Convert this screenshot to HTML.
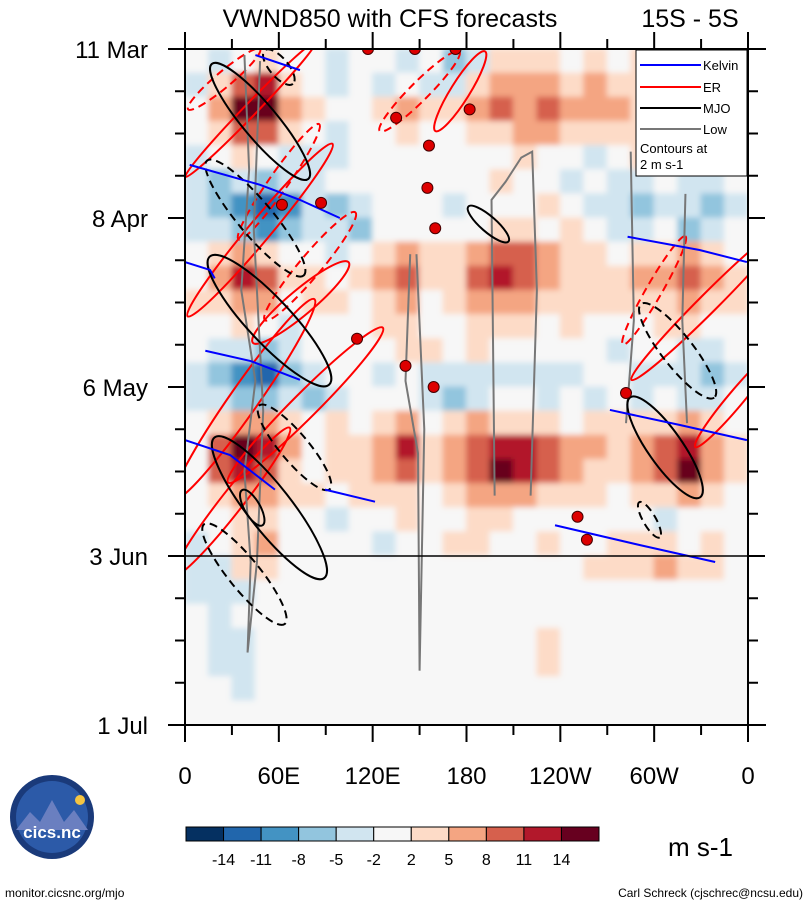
<!DOCTYPE html>
<html><head><meta charset="utf-8"><style>
body{margin:0;background:#fff;width:809px;height:907px;overflow:hidden;font-family:"Liberation Sans",sans-serif}
svg{display:block}
</style></head><body>
<svg id="chart" width="809" height="907" viewBox="0 0 809 907" xmlns="http://www.w3.org/2000/svg">
<defs>
<clipPath id="pc"><rect x="185" y="49" width="563" height="676"/></clipPath>
<filter id="bl" filterUnits="userSpaceOnUse" x="150" y="20" width="650" height="750"><feGaussianBlur stdDeviation="3"/></filter>
</defs>
<text x="390" y="27" font-size="25" text-anchor="middle">VWND850 with CFS forecasts</text>
<text x="690" y="27" font-size="25" text-anchor="middle">15S - 5S</text>
<g clip-path="url(#pc)"><rect x="185" y="49" width="563" height="676" fill="#f7f7f7"/><g id="heat" filter="url(#bl)"></g></g>
<g id="over" clip-path="url(#pc)"></g>
<g id="axes"></g>
<g id="legend">
<rect x="636" y="50" width="111" height="126" fill="#fff" stroke="#000" stroke-width="1"/>
<g><line x1="640" y1="65" x2="701" y2="65" stroke="#00f" stroke-width="2"/><text x="703" y="70" font-size="13">Kelvin</text></g>
<g><line x1="640" y1="87" x2="701" y2="87" stroke="#f00" stroke-width="2"/><text x="703" y="92" font-size="13">ER</text></g>
<g><line x1="640" y1="108" x2="701" y2="108" stroke="#000" stroke-width="2"/><text x="703" y="113" font-size="13">MJO</text></g>
<g><line x1="640" y1="129" x2="701" y2="129" stroke="#777" stroke-width="2"/><text x="703" y="134" font-size="13">Low</text></g>
<text x="640" y="153" font-size="13">Contours at</text>
<text x="640" y="169" font-size="13">2 m s-1</text>
</g>
<g id="cbar"></g>
<text x="668" y="856" font-size="26">m s-1</text>
<g>
<circle cx="52" cy="817" r="42" fill="#1a3a7a"/>
<circle cx="52" cy="817" r="36" fill="#2c5aa8"/>
<path d="M16 830 L30 812 L40 822 L52 800 L64 822 L74 810 L88 830 Z" fill="#6a7fc0"/>
<circle cx="80" cy="800" r="5" fill="#f5c542"/>
<text x="52" y="838" font-size="17" fill="#fff" text-anchor="middle" font-weight="bold">cics.nc</text>
</g>
<text x="5" y="897" font-size="12">monitor.cicsnc.org/mjo</text>
<text x="803" y="897" font-size="12" text-anchor="end">Carl Schreck (cjschrec@ncsu.edu)</text>
</svg>
<script>
const NS='http://www.w3.org/2000/svg';
// ---- data ----
const lonStep=15, dayStep=4;
const vRows=[
[0,-3,0,3,0,0,-3,0,0,-3,0,-6,-3,3,3,3,0,3,0,3,0,0,0,0],
[-3,3,9,12,3,0,-3,0,-3,0,-3,-3,3,6,6,6,3,6,3,3,3,3,0,0],
[0,6,15,15,6,3,0,0,3,6,3,3,6,9,6,9,6,6,6,3,6,3,3,3],
[0,3,9,9,3,0,-3,0,0,3,0,0,3,3,6,6,3,3,3,3,3,0,3,0],
[-3,0,3,0,-3,-3,-3,0,0,0,0,0,0,0,3,0,0,-3,0,3,0,-3,0,-3],
[-3,-6,-3,-6,-3,-3,0,0,0,0,0,0,0,3,0,0,-3,0,-3,-3,0,-3,-3,0],
[-3,-6,-9,-12,-9,-3,-6,-3,0,0,0,-3,0,0,0,3,0,-3,-3,-6,-3,-3,-6,-3],
[-3,-3,-6,-9,-6,-3,-3,-6,0,0,0,0,0,3,3,0,3,0,-3,-3,0,-6,-3,0],
[0,3,6,3,0,0,-3,0,3,6,3,3,6,9,9,6,3,3,0,3,3,6,3,0],
[0,6,12,9,3,3,0,3,6,9,3,3,9,12,9,6,3,3,3,6,6,9,6,3],
[3,3,6,6,0,3,3,0,3,6,0,3,6,6,6,3,3,3,3,3,3,6,3,3],
[0,0,3,0,-3,0,0,0,3,3,0,0,3,3,3,0,3,0,0,0,3,3,0,0],
[0,-3,-3,-6,-3,0,0,0,0,3,3,0,3,0,0,0,0,0,-3,0,0,-3,-3,0],
[-3,-6,-9,-12,-6,-3,0,0,-3,0,-3,-3,-3,-3,-3,-3,-3,0,0,-3,-3,-3,-6,-3],
[-3,-3,-6,-6,-3,-6,-3,0,0,0,-3,-6,-3,0,0,-3,0,-3,0,-3,0,-3,-3,0],
[0,3,6,6,3,0,3,0,3,6,0,3,6,3,3,3,0,3,3,3,3,6,3,0],
[0,9,15,12,6,0,3,3,6,12,3,6,9,12,12,9,6,6,3,6,9,12,6,3],
[0,9,12,9,3,0,3,3,6,9,3,6,9,15,12,9,6,3,3,6,9,15,6,3],
[0,3,6,6,3,3,0,3,3,3,0,3,6,6,6,3,3,3,0,3,3,6,3,0],
[0,0,3,3,0,0,-3,0,0,3,0,0,3,3,0,0,0,0,0,0,-3,0,0,0],
[-3,0,3,6,0,0,0,0,-3,0,0,3,3,0,0,3,0,0,3,3,3,0,3,0],
[-3,-3,3,3,0,0,0,0,0,0,0,0,0,0,0,0,0,3,3,3,6,3,3,0],
[-3,-3,-3,0,0,0,0,0,0,0,0,0,0,0,0,0,0,0,0,0,0,0,0,0],
[0,-3,0,0,0,0,0,0,0,0,0,0,0,0,0,0,0,0,0,0,0,0,0,0],
[0,-3,-3,0,0,0,0,0,0,0,0,0,0,0,0,3,0,0,0,0,0,0,0,0],
[0,-3,-3,0,0,0,0,0,0,0,0,0,0,0,0,3,0,0,0,0,0,0,0,0],
[0,0,-3,0,0,0,0,0,0,0,0,0,0,0,0,0,0,0,0,0,0,0,0,0],
[0,0,0,0,0,0,0,0,0,0,0,0,0,0,0,0,0,0,0,0,0,0,0,0]];
const cbLevels=[-14,-11,-8,-5,-2,2,5,8,11,14];
const cbColors=['#053061','#2166ac','#4393c3','#92c5de','#d1e5f0','#f7f7f7','#fddbc7','#f4a582','#d6604d','#b2182b','#67001f'];
const xTickLons=[0,60,120,180,240,300,360];
const xTickLabels=['0','60E','120E','180','120W','60W','0'];
const yTickDays=[0,28,56,84,112];
const yTickLabels=['11 Mar','8 Apr','6 May','3 Jun','1 Jul'];
const mjoSolid=[[48,12,48,11,50],[54,45,56,14,47],[54,76,57,14,52],[307,66,39,11,55],[194,29,17,5,41],[43,76,13,5,60]];
const mjoDashed=[[45,28,48,11,50],[38,87,41,10,51],[315,50,38,10,52],[297,78,13,4,60],[60,3,14,6,50],[70,66,35,9,50]];
const erSolid=[[42,10,60,4,-46],[48,30,72,7,-50],[74,42,40,8,-40],[38,58,78,9,-55],[77,59,70,8,-45],[176,7,30,6,-58],[335,42,70,6,-45],[30,75,60,7,-52],[352,58,40,5,-50]];
const erDashed=[[150,7,36,6,-45],[60,22,45,6,-55],[300,40,40,5,-60],[25,5,30,5,-40],[80,36,45,7,-50]];
const kelvinLines=[
[[3,19.2],[48,22.5],[73.5,25],[99,28]],
[[0,35.3],[16,36.6],[19,38]],
[[13,50],[42,51.7],[73.5,54.8]],
[[0,64.8],[29,67.3],[57.5,73]],
[[89.5,73],[121.5,75]],
[[271.7,59.8],[316.5,62.3],[359.3,64.8]],
[[283,31.1],[329,33.3],[359.3,35.3]],
[[236.6,78.9],[291,82.2],[339,85]],
[[45,1],[73.5,3.5]]];
const lowLines=[
[[38,1],[41,20],[36,40],[45,55],[38,70],[42,85],[40,100],[46,85],[50,60],[44,30],[48,2]],
[[144,34],[141,55],[149,67],[150,103],[153,63],[148,34]],
[[198,74],[196,25],[205,22],[215,18],[222,17],[225,40],[221,74]],
[[285,17],[287,45],[282,62]],[[320,24],[318,45],[321,62]]];
const cyclones=[[117,0],[147,0],[173,0],[135,11.4],[182,10],[156,16],[155,23],[160,29.7],[62,25.8],[87,25.5],[110,48],[141,52.5],[159,56],[282,57],[251,77.5],[257,81.3]];
// ---- scales ----
const X=l=>185+l*563/360, Y=d=>49+d*676/112;
function col(v){let i=0;while(i<cbLevels.length&&v>=cbLevels[i])i++;return cbColors[i];}
function mk(tag,attrs,parent){const e=document.createElementNS(NS,tag);for(const k in attrs)e.setAttribute(k,attrs[k]);parent.appendChild(e);return e;}
const heat=document.getElementById('heat');
vRows.forEach((row,r)=>row.forEach((v,c)=>{
 const e=mk('rect',{x:X(c*lonStep)-0.5,y:Y(r*dayStep)-0.5,width:X(lonStep)-185+1,height:Y(dayStep)-49+1,fill:col(v)},heat);
 
 
}));
const over=document.getElementById('over');
function ell(list,stroke,dash,name){list.forEach(p=>{
 const cx=X(p[0]),cy=Y(p[1]),rx=p[2]*563/360,ry=p[3]*563/360;
 const e=mk('ellipse',{cx:cx,cy:cy,rx:rx,ry:ry,transform:`rotate(${p[4]} ${cx} ${cy})`,fill:'none',stroke:stroke,'stroke-width':2,'stroke-dasharray':dash},over);
 
 
});}
ell(erSolid,'#f00','none','er-contour');
ell(erDashed,'#f00','8 5','er-contour-negative');
function pl(list,stroke,name){list.forEach(pts=>{
 const e=mk('polyline',{points:pts.map(p=>X(p[0])+','+Y(p[1])).join(' '),fill:'none',stroke:stroke,'stroke-width':2},over);
 
 
});}
pl(lowLines,'#777','low-contour');
ell(mjoSolid,'#000','none','mjo-contour');
ell(mjoDashed,'#000','8 5','mjo-contour-negative');
pl(kelvinLines,'#00f','kelvin-contour');
cyclones.forEach(p=>{
 const e=mk('circle',{cx:X(p[0]),cy:Y(p[1]),r:5.5,fill:'#d00',stroke:'#400','stroke-width':1},over);
 
 
});
const ln=mk('line',{x1:185,x2:748,y1:Y(84),y2:Y(84),stroke:'#000','stroke-width':1.5},over);


const ax=document.getElementById('axes');
mk('rect',{x:185,y:49,width:563,height:676,fill:'none',stroke:'#000','stroke-width':2},ax);
mk('line',{x1:168,x2:766,y1:49,y2:49,stroke:'#000','stroke-width':2},ax);
mk('line',{x1:168,x2:766,y1:725,y2:725,stroke:'#000','stroke-width':2},ax);
for(let l=0;l<=360;l+=30){const maj=l%60===0,x=X(l);
 mk('line',{x1:x,x2:x,y1:725,y2:725+(maj?17:10),stroke:'#000','stroke-width':2},ax);
 mk('line',{x1:x,x2:x,y1:49,y2:49-(maj?17:10),stroke:'#000','stroke-width':2},ax);}
for(let d=0;d<=112;d+=7){const maj=d%28===0,y=Y(d);
 mk('line',{x1:185,x2:185-(maj?17:10),y1:y,y2:y,stroke:'#000','stroke-width':2},ax);
 mk('line',{x1:748,x2:748+(maj?17:10),y1:y,y2:y,stroke:'#000','stroke-width':2},ax);}
xTickLons.forEach((l,i)=>{const t=mk('text',{x:X(l),y:784,'font-size':24,'text-anchor':'middle'},ax);t.textContent=xTickLabels[i];
 
 });
yTickDays.forEach((d,i)=>{const t=mk('text',{x:148,y:Y(d)+9,'font-size':24,'text-anchor':'end'},ax);t.textContent=yTickLabels[i];
 
 });
const cb=document.getElementById('cbar');const bw=(599-186)/cbColors.length;
cbColors.forEach((c,i)=>{const r=mk('rect',{x:186+i*bw,y:827,width:bw,height:14,fill:c,stroke:'#000','stroke-width':1},cb);
 
 });
cbLevels.forEach((v,i)=>{const t=mk('text',{x:186+(i+1)*bw,y:865,'font-size':16,'text-anchor':'middle'},cb);t.textContent=v;
 
 });
</script>
</body></html>
